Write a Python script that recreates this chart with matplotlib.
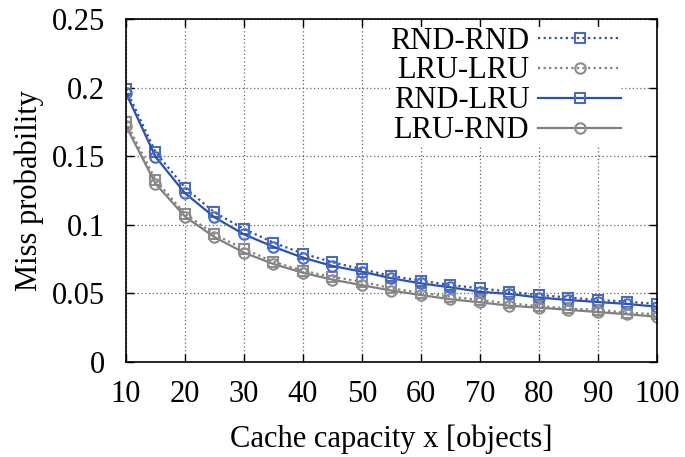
import matplotlib
matplotlib.use("Agg")
import matplotlib.pyplot as plt
from matplotlib.lines import Line2D

plt.rcParams['font.family'] = ['Liberation Serif', 'DejaVu Serif']

capacity = [10, 15, 20, 25, 30, 35, 40, 45, 50, 55, 60, 65, 70, 75, 80, 85, 90, 95, 100]

rnd_rnd = [0.199, 0.153, 0.127, 0.109, 0.097, 0.087, 0.079, 0.0727, 0.0676, 0.0627,
           0.0593, 0.0561, 0.0537, 0.0512, 0.0488, 0.047, 0.0452, 0.044, 0.0423]
rnd_lru = [0.196, 0.1496, 0.123, 0.1055, 0.093, 0.084, 0.076, 0.070, 0.0658, 0.061,
           0.0573, 0.0544, 0.0512, 0.0496, 0.047, 0.0452, 0.0437, 0.0423, 0.0403]
lru_lru = [0.175, 0.1327, 0.108, 0.093, 0.0824, 0.073, 0.0665, 0.062, 0.0585, 0.0537,
           0.0505, 0.0476, 0.0452, 0.0427, 0.0408, 0.039, 0.038, 0.036, 0.0348]
lru_rnd = [0.172, 0.130, 0.106, 0.091, 0.0797, 0.0714, 0.065, 0.060, 0.056, 0.052,
           0.0488, 0.0457, 0.0435, 0.041, 0.0396, 0.038, 0.0364, 0.0348, 0.033]

blue = '#2d52a8'
blue_edge = '#4a6cc0'
gray = '#808080'
gray_edge = '#8c8c8c'

fig = plt.figure(figsize=(6.85, 4.57), dpi=100)
ax = fig.add_axes([126 / 685, 1 - 362 / 457, (657 - 126) / 685, (362 - 19) / 457])

common = dict(markersize=7.5, markerfacecolor='none', markeredgewidth=1.5, linewidth=1.6)
ax.plot(capacity, rnd_rnd, linestyle=(0, (1, 1.5)), color=blue, marker='s',
        markeredgecolor=blue_edge, **common)
ax.plot(capacity, lru_lru, linestyle=(0, (1, 1.5)), color=gray, marker='s',
        markeredgecolor=gray_edge, **common)
ax.plot(capacity, rnd_lru, linestyle='-', color=blue, marker='o',
        markeredgecolor=blue_edge, **common)
ax.plot(capacity, lru_rnd, linestyle='-', color=gray, marker='o',
        markeredgecolor=gray_edge, **common)

ax.set_xlim(10, 100)
ax.set_ylim(0, 0.25)
ax.set_xticks(range(10, 101, 10))
ax.set_yticks([0, 0.05, 0.1, 0.15, 0.2, 0.25])
ax.set_yticklabels(['0', '0.05', '0.1', '0.15', '0.2', '0.25'])
ax.tick_params(direction='in', top=True, right=True, length=6, width=1, labelsize=22)
ax.tick_params(axis='x', pad=13)
ax.tick_params(axis='y', pad=15)
ax.grid(True, color='#666666', linestyle=(0, (1, 2)), linewidth=0.9)
for s in ax.spines.values():
    s.set_linewidth(1.2)

ax.set_xlabel('Cache capacity x [objects]', fontsize=22, labelpad=11)
ax.set_ylabel('Miss probability', fontsize=22, labelpad=6)

handles = [
    Line2D([], [], linestyle=(0, (1, 1.5)), color=blue, marker='s', markeredgecolor=blue_edge, **common),
    Line2D([], [], linestyle=(0, (1, 1.5)), color=gray, marker='o', markeredgecolor=gray_edge, **common),
    Line2D([], [], linestyle='-', color=blue, marker='s', markeredgecolor=blue_edge, **common),
    Line2D([], [], linestyle='-', color=gray, marker='o', markeredgecolor=gray_edge, **common),
]
leg = ax.legend(handles, ['RND-RND', 'LRU-LRU', 'RND-LRU', 'LRU-RND'],
                loc='upper right', bbox_to_anchor=(0.932, 0.978), frameon=True,
                fontsize=22, markerfirst=False, handlelength=2.7,
                labelspacing=0.03, borderpad=0.0, handletextpad=0.3,
                borderaxespad=0.0, framealpha=1)
leg.get_frame().set_edgecolor('none')
leg.get_frame().set_boxstyle('square', pad=0)

fig.savefig('out.png', dpi=100)
